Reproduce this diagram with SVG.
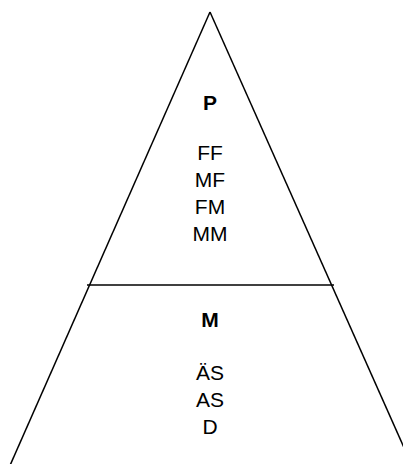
<svg xmlns="http://www.w3.org/2000/svg" width="403" height="464" viewBox="0 0 403 464">
<style>
.ln{stroke:#000;stroke-width:1.5;fill:none}
text{font-family:"Liberation Sans",Arial,sans-serif;font-size:21px;fill:#000;text-anchor:middle}
.b{font-weight:bold}
</style>
<rect width="403" height="464" fill="#fff"/>
<g id="connectors">
<path class="ln" d="M210,12 L8,470"/>
<path class="ln" d="M210,12 L414,470"/>
<path class="ln" d="M87,285 L334,285"/>
</g>
<g id="upper">
<text x="210" y="110" class="b">P</text>
<text x="210" y="160">FF</text>
<text x="210" y="187">MF</text>
<text x="210" y="214">FM</text>
<text x="210" y="241">MM</text>
</g>
<g id="lower">
<text x="210" y="327" class="b">M</text>
<text x="210" y="380">ÄS</text>
<text x="210" y="407">AS</text>
<text x="210" y="434">D</text>
</g>
</svg>
